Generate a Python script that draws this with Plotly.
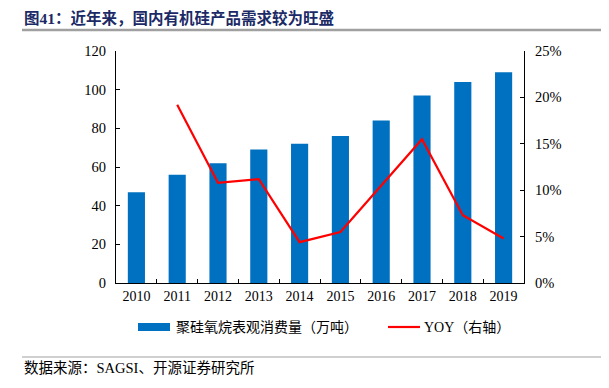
import plotly.graph_objects as go

years = ["2010", "2011", "2012", "2013", "2014", "2015", "2016", "2017", "2018", "2019"]
consumption = [47, 56, 62, 69, 72, 76, 84, 97, 104, 109]
yoy_years = ["2011", "2012", "2013", "2014", "2015", "2016", "2017", "2018", "2019"]
yoy = [0.192, 0.108, 0.112, 0.044, 0.055, 0.105, 0.155, 0.073, 0.048]

bar_name = "聚硅氧烷表观消费量（万吨）"
line_name = "YOY（右轴）"
title = "图41：近年来，国内有机硅产品需求较为旺盛"
source = "数据来源：SAGSI、开源证券研究所"

FONT = "Liberation Serif, Times New Roman, Noto Sans CJK SC, serif"
BAR_COLOR = "#0070C0"
LINE_COLOR = "#FF0000"

fig = go.Figure()
fig.add_trace(go.Bar(x=years, y=consumption, name=bar_name,
                     marker=dict(color=BAR_COLOR, line=dict(width=0)), width=0.42))
fig.add_trace(go.Scatter(x=yoy_years, y=yoy, name=line_name, yaxis="y2",
                         mode="lines", line=dict(color=LINE_COLOR, width=2.2)))

OFF = 8  # page body margin offset
W, H = 609 - OFF, 388 - OFF
L, R, T, B = 116 - OFF, 524 - OFF, 51 - OFF, 283 - OFF
PW, PH = R - L, B - T


def px(x):
    return (x - OFF - L) / PW


def py(y):
    return (B - (y - OFF)) / PH


fig.update_layout(
    width=W, height=H,
    margin=dict(l=L, r=W - R, t=T, b=H - B, autoexpand=False),
    paper_bgcolor="white", plot_bgcolor="white",
    font=dict(family=FONT, size=14, color="#000000"),
    showlegend=False,
    xaxis=dict(type="category", showline=True, linecolor="#000", linewidth=1,
               ticks="inside", ticklen=4, tickcolor="#000", tickson="boundaries",
               showgrid=False, tickfont=dict(size=14), automargin=False),
    yaxis=dict(range=[0, 120], dtick=20, showline=True, linecolor="#000", linewidth=1,
               ticks="inside", ticklen=4, tickcolor="#000", showgrid=False,
               zeroline=False, tickfont=dict(size=14.5), automargin=False,
               ticklabelstandoff=6),
    yaxis2=dict(range=[0, 0.25], dtick=0.05, tickformat=".0%", overlaying="y", side="right",
                showline=True, linecolor="#000", linewidth=1, ticks="inside", ticklen=4,
                tickcolor="#000", showgrid=False, zeroline=False, tickfont=dict(size=14.5),
                automargin=False, ticklabelstandoff=7),
)

# Legend (drawn manually to match the reference's wide swatches)
fig.add_shape(type="rect", xref="paper", yref="paper",
              x0=px(138), x1=px(170), y0=py(331), y1=py(323),
              fillcolor=BAR_COLOR, line=dict(width=0))
fig.add_annotation(text=bar_name, xref="paper", yref="paper", x=px(174), y=py(327),
                   xanchor="left", yanchor="middle", showarrow=False,
                   font=dict(family=FONT, size=14, color="#000"))
fig.add_shape(type="line", xref="paper", yref="paper",
              x0=px(388), x1=px(420), y0=py(327), y1=py(327),
              line=dict(color=LINE_COLOR, width=2.2))
fig.add_annotation(text=line_name, xref="paper", yref="paper", x=px(422), y=py(327),
                   xanchor="left", yanchor="middle", showarrow=False,
                   font=dict(family=FONT, size=14, color="#000"))

# Title
fig.add_annotation(text=f"<b>{title}</b>", xref="paper", yref="paper",
                   x=px(22), y=py(18), xanchor="left", yanchor="middle",
                   showarrow=False, font=dict(family=FONT, size=15.5, color="#1B2A66"))
fig.add_shape(type="line", xref="paper", yref="paper",
              x0=px(22), x1=px(603), y0=py(30), y1=py(30),
              line=dict(color="#A0A0A0", width=2.5))
# Source
fig.add_shape(type="line", xref="paper", yref="paper",
              x0=px(22), x1=px(603), y0=py(357), y1=py(357),
              line=dict(color="#A0A0A0", width=1))
fig.add_annotation(text=source, xref="paper", yref="paper",
                   x=px(22), y=py(368), xanchor="left", yanchor="middle",
                   showarrow=False, font=dict(family=FONT, size=14.5, color="#000"))

fig.write_html("out.html")
